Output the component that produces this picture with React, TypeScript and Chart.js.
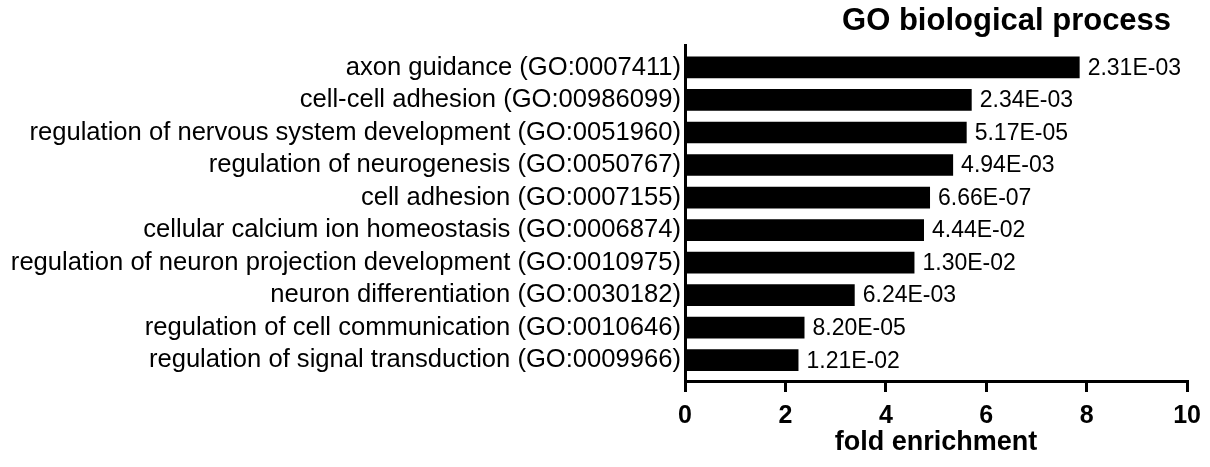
import { useEffect, useRef } from 'react';
import { Chart, registerables } from 'chart.js';

Chart.register(...registerables);

const categories = [
  'axon guidance (GO:0007411)',
  'cell-cell adhesion (GO:00986099)',
  'regulation of nervous system development (GO:0051960)',
  'regulation of neurogenesis (GO:0050767)',
  'cell adhesion (GO:0007155)',
  'cellular calcium ion homeostasis (GO:0006874)',
  'regulation of neuron projection development (GO:0010975)',
  'neuron differentiation (GO:0030182)',
  'regulation of cell communication (GO:0010646)',
  'regulation of signal transduction (GO:0009966)',
];

const foldEnrichment = [7.86, 5.71, 5.61, 5.34, 4.88, 4.76, 4.57, 3.38, 2.38, 2.26];

const pValues = [
  '2.31E-03',
  '2.34E-03',
  '5.17E-05',
  '4.94E-03',
  '6.66E-07',
  '4.44E-02',
  '1.30E-02',
  '6.24E-03',
  '8.20E-05',
  '1.21E-02',
];

const xMin = 0;
const xMax = 10;
const xStep = 2;

const chartTitle = 'GO biological process';
const xAxisTitle = 'fold enrichment';

const FONT = "'Liberation Sans', Arial, Helvetica, sans-serif";

export default function App() {
  const canvasRef = useRef<HTMLCanvasElement | null>(null);

  useEffect(() => {
    document.body.style.margin = '0';
    const canvas = canvasRef.current;
    if (!canvas) return;

    const annotate = {
      id: 'annotate',
      afterDatasetsDraw(chart: any) {
        const ctx = chart.ctx;
        const meta = chart.getDatasetMeta(0);
        ctx.save();
        ctx.fillStyle = '#000';
        ctx.font = `23px ${FONT}`;
        ctx.textAlign = 'left';
        ctx.textBaseline = 'middle';
        meta.data.forEach((bar: any, i: number) => {
          ctx.fillText(pValues[i], bar.x + 8, bar.y + 1);
        });
        ctx.restore();
      },
      afterDraw(chart: any) {
        const ctx = chart.ctx;
        const area = chart.chartArea;
        ctx.save();
        ctx.fillStyle = '#000';
        ctx.font = `bold 31px ${FONT}`;
        ctx.textAlign = 'right';
        ctx.textBaseline = 'alphabetic';
        ctx.fillText(chartTitle, area.right - 16, 30);
        ctx.restore();
      },
    };

    const chart = new Chart(canvas, {
      type: 'bar',
      data: {
        datasets: [
          {
            data: foldEnrichment.map((v, i) => ({ x: v, y: i })),
            backgroundColor: '#000',
            borderWidth: 0,
            categoryPercentage: 1,
            barPercentage: 0.667,
          },
        ],
      },
      options: {
        indexAxis: 'y',
        responsive: false,
        animation: false,
        events: [],
        layout: { padding: { left: 0, right: 22, top: 45, bottom: 8 } },
        plugins: {
          legend: { display: false },
          tooltip: { enabled: false },
          title: { display: false },
        },
        scales: {
          x: {
            type: 'linear',
            position: 'bottom',
            min: xMin,
            max: xMax,
            ticks: {
              stepSize: xStep,
              color: '#000',
              padding: 9,
              font: { family: FONT, size: 25, weight: 'bold' },
            },
            grid: {
              drawOnChartArea: false,
              drawTicks: true,
              tickLength: 11,
              lineWidth: 3,
              color: '#000',
            },
            border: { display: true, color: '#000', width: 3 },
            title: {
              display: true,
              text: xAxisTitle,
              color: '#000',
              font: { family: FONT, size: 27, weight: 'bold' },
              padding: { top: 0, bottom: 0 },
            },
            afterFit(scale: any) {
              scale.height = 78;
            },
          },
          y: {
            type: 'linear',
            reverse: true,
            offset: false,
            min: -0.69,
            max: 9.64,
            ticks: {
              stepSize: 1,
              includeBounds: false,
              autoSkip: false,
              color: '#000',
              padding: 4,
              font: { family: FONT, size: 25.6 },
              callback: (value: any) => {
                const v = Number(value);
                const r = Math.round(v);
                if (Math.abs(v - r) < 1e-6 && r >= 0 && r < categories.length) return categories[r];
                return '';
              },
            },
            grid: { drawOnChartArea: false, drawTicks: false, offset: false },
            border: { display: true, color: '#000', width: 3 },
            afterFit(scale: any) {
              scale.width = 685;
            },
          },
        },
      },
      plugins: [annotate],
    } as any);

    return () => chart.destroy();
  }, []);

  return (
    <div style={{ width: 1210, height: 467, background: '#fff' }}>
      <canvas ref={canvasRef} width={1210} height={467} style={{ display: 'block' }} />
    </div>
  );
}
